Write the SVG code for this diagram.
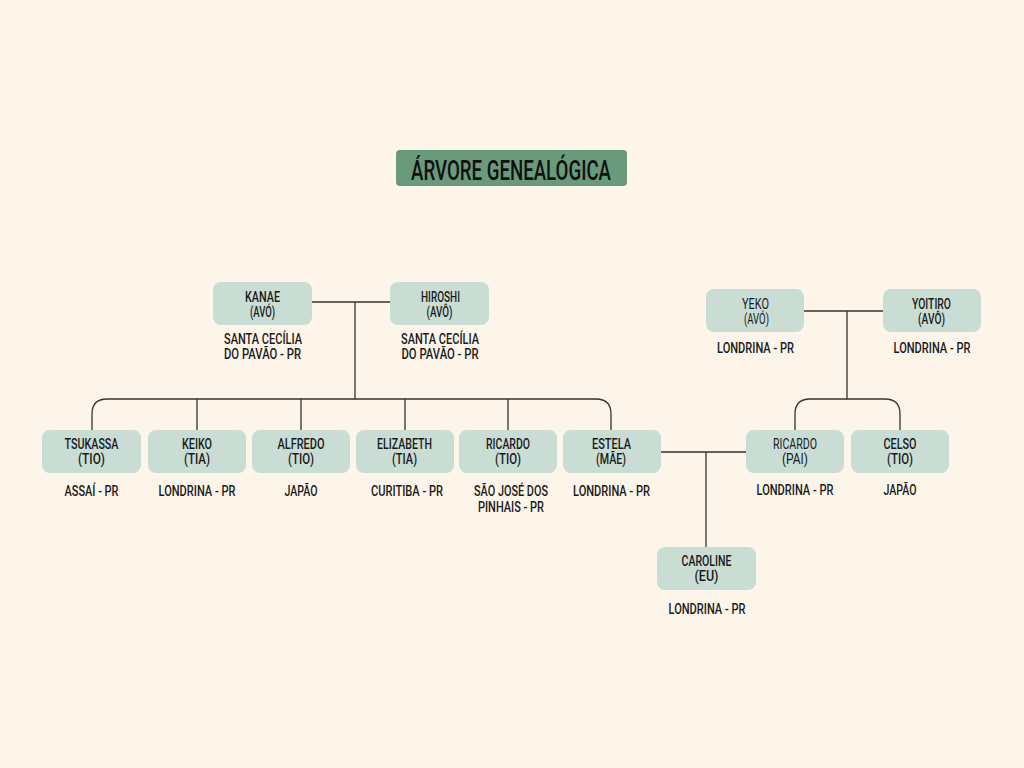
<svg xmlns="http://www.w3.org/2000/svg" width="1024" height="768" viewBox="0 0 1024 768">
<style>
.bg{fill:#FDF5E9}
.node{fill:#C9DDD5}
text{font-family:Roboto,"DejaVu Sans",sans-serif;text-anchor:middle;fill:#1a1a1a}
.t{font-size:15px;font-weight:500}
.l{font-weight:400}
.title{font-size:28px;font-weight:500;fill:#111}
.c{fill:none;stroke:#333;stroke-width:1.3}
</style>
<rect class="bg" x="0" y="0" width="1024" height="768"/>
<g id="title">
<rect x="396" y="150" width="231" height="36" rx="4" fill="#6A9A7C"/>
<text class="title" x="511" y="180" textLength="200" lengthAdjust="spacingAndGlyphs">ÁRVORE GENEALÓGICA</text>
</g>
<g id="connectors">
<path class="c" d="M312 302H390M355 302V399"/>
<path class="c" d="M92 430V414Q92 399 107 399H596Q611 399 611 414V430"/>
<path class="c" d="M197 399V430M301 399V430M405 399V430M508 399V430"/>
<path class="c" d="M804 311H883M847 311V399"/>
<path class="c" d="M795 430V414Q795 399 810 399H885Q900 399 900 414V430"/>
<path class="c" d="M661 452H746M706 452V547"/>
</g>
<g id="kanae"><rect class="node" x="213" y="282" width="99" height="43" rx="8"/><text class="t" x="262.5" y="302" textLength="35" lengthAdjust="spacingAndGlyphs">KANAE</text><text class="t" x="262.5" y="317" textLength="25" lengthAdjust="spacingAndGlyphs">(AVÓ)</text><text class="t" x="263" y="344" textLength="78" lengthAdjust="spacingAndGlyphs">SANTA CECÍLIA</text><text class="t" x="262.5" y="359" textLength="77" lengthAdjust="spacingAndGlyphs">DO PAVÃO - PR</text></g>
<g id="hiroshi"><rect class="node" x="390" y="282" width="99" height="43" rx="8"/><text class="t" x="440.5" y="302" textLength="39" lengthAdjust="spacingAndGlyphs">HIROSHI</text><text class="t" x="439.5" y="317" textLength="26" lengthAdjust="spacingAndGlyphs">(AVÔ)</text><text class="t" x="440" y="344" textLength="78" lengthAdjust="spacingAndGlyphs">SANTA CECÍLIA</text><text class="t" x="440" y="359" textLength="77" lengthAdjust="spacingAndGlyphs">DO PAVÃO - PR</text></g>
<g id="yeko"><rect class="node" x="706" y="289" width="98" height="43" rx="8"/><text class="t l" x="755.5" y="309" textLength="27" lengthAdjust="spacingAndGlyphs">YEKO</text><text class="t l" x="756.5" y="324" textLength="25" lengthAdjust="spacingAndGlyphs">(AVÓ)</text><text class="t" x="755.5" y="353" textLength="77" lengthAdjust="spacingAndGlyphs">LONDRINA - PR</text></g>
<g id="yoitiro"><rect class="node" x="883" y="289" width="98" height="43" rx="8"/><text class="t" x="931.5" y="309" textLength="39" lengthAdjust="spacingAndGlyphs">YOITIRO</text><text class="t" x="931.5" y="324" textLength="27" lengthAdjust="spacingAndGlyphs">(AVÔ)</text><text class="t" x="932" y="353" textLength="77" lengthAdjust="spacingAndGlyphs">LONDRINA - PR</text></g>
<g id="tsukassa"><rect class="node" x="42" y="430" width="99" height="43" rx="8"/><text class="t" x="91.5" y="449" textLength="54" lengthAdjust="spacingAndGlyphs">TSUKASSA</text><text class="t" x="91.5" y="464" textLength="27" lengthAdjust="spacingAndGlyphs">(TIO)</text><text class="t" x="91.5" y="496" textLength="54" lengthAdjust="spacingAndGlyphs">ASSAÍ - PR</text></g>
<g id="keiko"><rect class="node" x="148" y="430" width="98" height="43" rx="8"/><text class="t" x="197" y="449" textLength="30" lengthAdjust="spacingAndGlyphs">KEIKO</text><text class="t" x="197" y="464" textLength="26" lengthAdjust="spacingAndGlyphs">(TIA)</text><text class="t" x="197" y="496" textLength="77" lengthAdjust="spacingAndGlyphs">LONDRINA - PR</text></g>
<g id="alfredo"><rect class="node" x="252" y="430" width="98" height="43" rx="8"/><text class="t" x="301" y="449" textLength="47" lengthAdjust="spacingAndGlyphs">ALFREDO</text><text class="t" x="301" y="464" textLength="26" lengthAdjust="spacingAndGlyphs">(TIO)</text><text class="t" x="301" y="496" textLength="33" lengthAdjust="spacingAndGlyphs">JAPÃO</text></g>
<g id="elizabeth"><rect class="node" x="356" y="430" width="98" height="43" rx="8"/><text class="t" x="404.5" y="449" textLength="55" lengthAdjust="spacingAndGlyphs">ELIZABETH</text><text class="t" x="404.5" y="464" textLength="25" lengthAdjust="spacingAndGlyphs">(TIA)</text><text class="t" x="407" y="496" textLength="72" lengthAdjust="spacingAndGlyphs">CURITIBA - PR</text></g>
<g id="ricardo-tio"><rect class="node" x="459" y="430" width="98" height="43" rx="8"/><text class="t" x="508" y="449" textLength="44" lengthAdjust="spacingAndGlyphs">RICARDO</text><text class="t" x="508" y="464" textLength="26" lengthAdjust="spacingAndGlyphs">(TIO)</text><text class="t" x="511" y="496" textLength="74" lengthAdjust="spacingAndGlyphs">SÃO JOSÉ DOS</text><text class="t" x="511" y="512" textLength="66" lengthAdjust="spacingAndGlyphs">PINHAIS - PR</text></g>
<g id="estela"><rect class="node" x="563" y="430" width="98" height="43" rx="8"/><text class="t" x="611.5" y="449" textLength="39" lengthAdjust="spacingAndGlyphs">ESTELA</text><text class="t" x="611" y="464" textLength="30" lengthAdjust="spacingAndGlyphs">(MÃE)</text><text class="t" x="611.5" y="496" textLength="77" lengthAdjust="spacingAndGlyphs">LONDRINA - PR</text></g>
<g id="ricardo-pai"><rect class="node" x="746" y="430" width="98" height="43" rx="8"/><text class="t l" x="795" y="449" textLength="44" lengthAdjust="spacingAndGlyphs">RICARDO</text><text class="t l" x="795" y="464" textLength="26" lengthAdjust="spacingAndGlyphs">(PAI)</text><text class="t" x="795" y="495" textLength="77" lengthAdjust="spacingAndGlyphs">LONDRINA - PR</text></g>
<g id="celso"><rect class="node" x="851" y="430" width="98" height="43" rx="8"/><text class="t" x="900" y="449" textLength="33" lengthAdjust="spacingAndGlyphs">CELSO</text><text class="t" x="900" y="464" textLength="26" lengthAdjust="spacingAndGlyphs">(TIO)</text><text class="t" x="900" y="495" textLength="33" lengthAdjust="spacingAndGlyphs">JAPÃO</text></g>
<g id="caroline"><rect class="node" x="657" y="547" width="99" height="43" rx="8"/><text class="t" x="706.5" y="566" textLength="50" lengthAdjust="spacingAndGlyphs">CAROLINE</text><text class="t" x="706.5" y="581" textLength="24" lengthAdjust="spacingAndGlyphs">(EU)</text><text class="t" x="707" y="614" textLength="77" lengthAdjust="spacingAndGlyphs">LONDRINA - PR</text></g>
</svg>
